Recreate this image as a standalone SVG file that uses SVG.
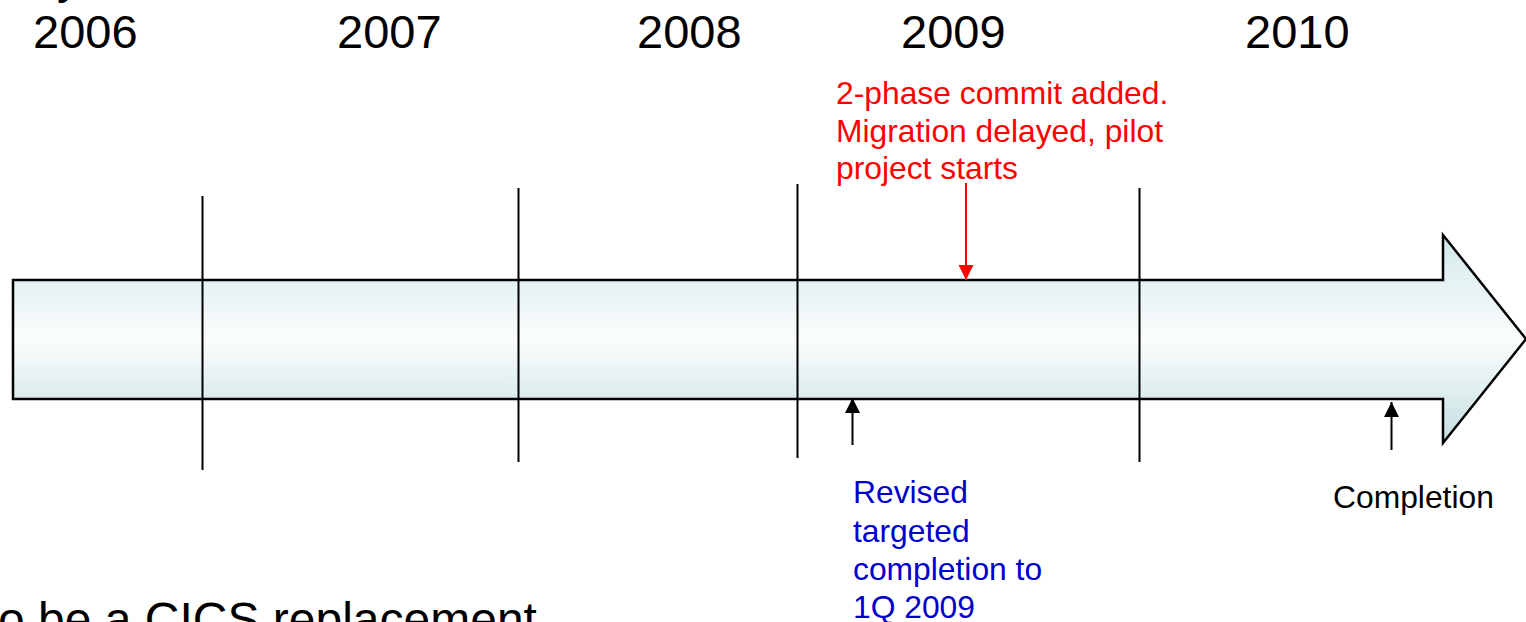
<svg xmlns="http://www.w3.org/2000/svg" width="1526" height="622" viewBox="0 0 1526 622">
<style>
.yr{font-family:"Liberation Sans",Arial,sans-serif;font-size:47px;fill:#000}
.lbl{font-family:"Liberation Sans",Arial,sans-serif;font-size:31.8px}
.red{fill:#ff0000}
.blue{fill:#0000cc}
.blk{fill:#000}
.tick{stroke:#000;stroke-width:2;fill:none}
.big{font-family:"Liberation Sans",Arial,sans-serif;font-size:48px;fill:#000}
</style>
<defs>
<linearGradient id="g" x1="0" y1="0" x2="0" y2="1">
<stop offset="0" stop-color="#d2e8ea"/>
<stop offset="0.5" stop-color="#fbfdfd"/>
<stop offset="1" stop-color="#c4dfe1"/>
</linearGradient>
<marker id="ahR" viewBox="0 0 10 10" refX="10" refY="5" markerWidth="15" markerHeight="15" markerUnits="userSpaceOnUse" orient="auto">
<path d="M0,0 L10,5 L0,10 z" fill="#ff0000"/>
</marker>
<marker id="ahK" viewBox="0 0 10 10" refX="10" refY="5" markerWidth="15" markerHeight="15" markerUnits="userSpaceOnUse" orient="auto">
<path d="M0,0 L10,5 L0,10 z" fill="#000"/>
</marker>
</defs>
<text class="big" x="57" y="-7">y</text>
<g id="timeline-arrow">
<path d="M13,280 L1443,280 L1443,235 L1526,339 L1443,443 L1443,399 L13,399 Z" fill="url(#g)" stroke="#000" stroke-width="2.5" stroke-linejoin="miter"/>
</g>
<g id="ticks">
<line class="tick" x1="202.5" y1="196" x2="202.5" y2="470"/>
<line class="tick" x1="518.5" y1="188" x2="518.5" y2="462"/>
<line class="tick" x1="797.5" y1="184" x2="797.5" y2="458"/>
<line class="tick" x1="1139.5" y1="188" x2="1139.5" y2="462"/>
</g>
<g id="years">
<text class="yr" x="33" y="48">2006</text>
<text class="yr" x="337" y="48">2007</text>
<text class="yr" x="637" y="48">2008</text>
<text class="yr" x="901" y="48">2009</text>
<text class="yr" x="1245" y="48">2010</text>
</g>
<g id="node-two-phase">
<text class="lbl red" x="836" y="104">2-phase commit added.</text>
<text class="lbl red" x="836" y="142">Migration delayed, pilot</text>
<text class="lbl red" x="836" y="179">project starts</text>
</g>
<g id="node-revised">
<text class="lbl blue" x="853" y="503">Revised</text>
<text class="lbl blue" x="853" y="542">targeted</text>
<text class="lbl blue" x="853" y="580">completion to</text>
<text class="lbl blue" x="853" y="618">1Q 2009</text>
</g>
<g id="node-completion">
<text class="lbl blk" x="1333" y="508">Completion</text>
</g>
<g id="connectors">
<line x1="966" y1="183" x2="966" y2="280" stroke="#ff0000" stroke-width="2" marker-end="url(#ahR)"/>
<line x1="852.5" y1="445" x2="852.5" y2="398" stroke="#000" stroke-width="2" marker-end="url(#ahK)"/>
<line x1="1391.5" y1="450" x2="1391.5" y2="402" stroke="#000" stroke-width="2" marker-end="url(#ahK)"/>
</g>
<text class="big" x="-2" y="636">o be a CICS replacement</text>
</svg>
